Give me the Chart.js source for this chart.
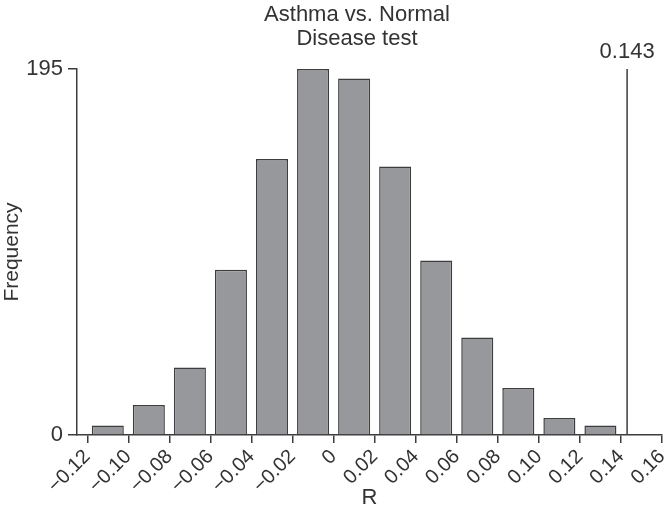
<!DOCTYPE html>
<html>
<head>
<meta charset="utf-8">
<script src="https://cdn.jsdelivr.net/npm/chart.js@4/dist/chart.umd.min.js"></script>
<style>
  html, body { margin: 0; padding: 0; background: #fff; }
  #wrap { width: 672px; height: 525px; }
</style>
</head>
<body>
<div id="wrap"><canvas id="histChart"></canvas></div>
<script>
// bin centres (R) and counts
const binCenters = [-0.11, -0.09, -0.07, -0.05, -0.03, -0.01, 0.01, 0.03, 0.05, 0.07, 0.09, 0.11, 0.13];
const frequencies = [5, 16, 36, 88, 147, 195, 190, 143, 93, 52, 25, 9, 5];
const xTickValues = [-0.12, -0.10, -0.08, -0.06, -0.04, -0.02, 0, 0.02, 0.04, 0.06, 0.08, 0.10, 0.12, 0.14, 0.16];
const yTickValues = [0, 195];
const observedR = 0.143;
const titleLines = ['Asthma vs. Normal', 'Disease test'];

const textColor = '#333333';
const lineColor = '#3d3d3d';
const fontFamily = '"Liberation Sans", Arial, Helvetica, sans-serif';
const narrowFamily = '"Liberation Sans Narrow", "Liberation Sans", Arial, sans-serif';

function fmtTick(v) {
    if (Math.abs(v) < 1e-9) return '0';
    const s = Math.abs(v).toFixed(2);
    return v < 0 ? '\u2212' + s : s;
}

// title and the label of the observed value
const annotations = {
    id: 'annotations',
    afterDraw(chart) {
        const ctx = chart.ctx;
        const x = chart.scales.x;
        const y = chart.scales.y;
        ctx.save();
        ctx.fillStyle = textColor;
        ctx.font = '22px ' + narrowFamily;
        ctx.textAlign = 'center';
        ctx.textBaseline = 'middle';
        ctx.fillText(titleLines[0], 357, 15);
        ctx.fillText(titleLines[1], 357, 39);
        ctx.fillText(String(observedR), x.getPixelForValue(observedR), y.getPixelForValue(195) - 17);
        ctx.restore();
    }
};

new Chart(document.getElementById('histChart'), {
    type: 'bar',
    data: {
        datasets: [{
            type: 'bar',
            data: binCenters.map((c, i) => ({ x: c, y: frequencies[i] })),
            backgroundColor: '#97989c',
            borderColor: lineColor,
            borderWidth: 1.5,
            barPercentage: 0.78,
            categoryPercentage: 1.0,
            order: 2
        }, {
            type: 'line',
            data: [{ x: observedR, y: 0 }, { x: observedR, y: 195.5 }],
            borderColor: lineColor,
            borderWidth: 1.5,
            pointRadius: 0,
            fill: false,
            order: 1
        }]
    },
    options: {
        responsive: true,
        maintainAspectRatio: false,
        animation: false,
        layout: { padding: { top: 69, right: 10, left: 0, bottom: 0 } },
        plugins: {
            legend: { display: false },
            tooltip: { enabled: false },
            title: { display: false }
        },
        scales: {
            x: {
                type: 'linear',
                offset: false,
                min: -0.125,
                max: 0.16,
                afterBuildTicks: (scale) => { scale.ticks = xTickValues.map(v => ({ value: v })); },
                afterFit: (scale) => {
                    scale.height = 90;
                    scale.paddingLeft = 0;
                    scale.paddingRight = 0;
                },
                grid: { offset: false, drawOnChartArea: false, drawTicks: true, tickLength: 8, color: lineColor, lineWidth: 1.5 },
                border: { color: lineColor, width: 1.5 },
                ticks: {
                    autoSkip: false,
                    minRotation: 45,
                    maxRotation: 45,
                    padding: 2,
                    color: textColor,
                    font: { size: 20, family: fontFamily },
                    callback: (v) => fmtTick(v)
                },
                title: {
                    display: true,
                    text: 'R',
                    color: textColor,
                    font: { size: 22, family: narrowFamily },
                    padding: { top: 0, bottom: 14 }
                }
            },
            y: {
                min: 0,
                max: 195,
                afterBuildTicks: (scale) => { scale.ticks = yTickValues.map(v => ({ value: v })); },
                afterFit: (scale) => { scale.width = 77; },
                grid: { drawOnChartArea: false, drawTicks: true, tickLength: 9, color: lineColor, lineWidth: 1.5 },
                border: { color: lineColor, width: 1.5 },
                ticks: {
                    padding: 5,
                    color: textColor,
                    font: { size: 22, family: narrowFamily }
                },
                title: {
                    display: true,
                    text: 'Frequency',
                    color: textColor,
                    font: { size: 21, family: fontFamily },
                    padding: { top: 0, bottom: 0 }
                }
            }
        }
    },
    plugins: [annotations]
});
</script>
</body>
</html>
